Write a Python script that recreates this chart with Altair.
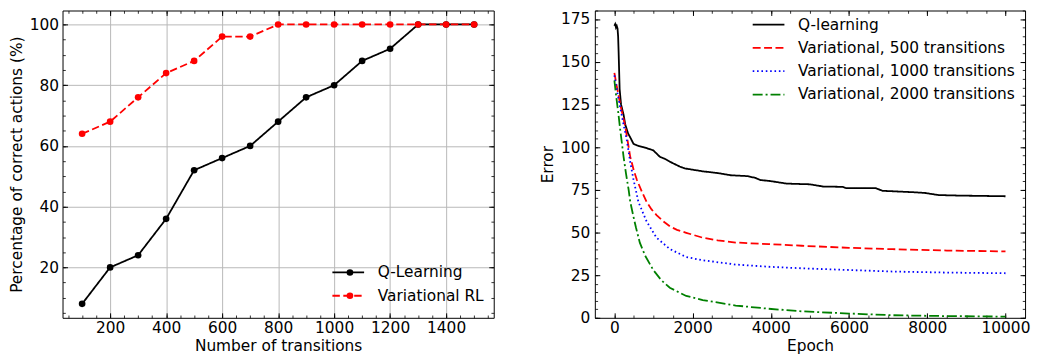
import altair as alt
import pandas as pd

FONT = "DejaVu Sans"
FS = 15.5

# ---------------- left panel data ----------------
transitions = [100, 200, 300, 400, 500, 600, 700, 800, 900, 1000, 1100, 1200, 1300, 1400, 1500]
q_learning_pct = [8, 20, 24, 36, 52, 56, 60, 68, 76, 80, 88, 92, 100, 100, 100]
variational_pct = [64, 68, 76, 84, 88, 96, 96, 100, 100, 100, 100, 100, 100, 100, 100]
left_series = ["Q-Learning", "Variational RL"]
left_colors = ["black", "red"]
left_dashes = [[1, 0], [7.5, 3.5]]
left_x_ticks = [200, 400, 600, 800, 1000, 1200, 1400]
left_y_ticks = [20, 40, 60, 80, 100]
left_x_minor = list(range(50, 1551, 50))
left_y_minor = list(range(5, 101, 5))

# ---------------- right panel data ----------------
q_epoch = [0, 20, 40, 60, 80, 95, 109, 134, 170, 235, 278, 350, 405, 488, 600, 741, 994,
           1163, 1300, 1417, 1500, 1670, 1800, 2259, 2638, 2975, 3397, 3600, 3734, 3987,
           4409, 4999, 5338, 5843, 5927, 6686, 6855, 7698, 7951, 8288, 8794, 10000]
q_error = [171, 172, 170, 171, 169.5, 165, 155, 134, 125, 118.9, 113.2, 108, 105.7, 101.9,
           100.8, 100, 98.1, 94.3, 93, 91.5, 90.5, 88.6, 87.5, 85.8, 84.8, 83.5, 83, 82,
           80.7, 80.1, 78.6, 78.2, 76.9, 76.7, 75.9, 75.9, 74.4, 73.5, 73.1, 71.9, 71.6, 71.2]

v500_epoch = [0, 50, 100, 150, 200, 278, 350, 405, 500, 572, 700, 825, 950, 1078, 1250, 1417,
              1600, 1837, 2259, 2638, 3101, 3500, 3946, 4789, 6000, 7108, 8500, 10000]
v500_error = [143.5, 137, 131, 125, 120, 112, 102, 94.3, 86, 81, 74, 67.8, 63.5, 60.2, 56.5,
              53.6, 51.5, 49.8, 46.9, 45.4, 44.1, 43.6, 43.2, 42.2, 41.0, 40.2, 39.4, 38.9]

v1000_epoch = [0, 50, 100, 150, 235, 320, 400, 488, 615, 825, 1078, 1417, 1837, 2259, 3101,
               3946, 4789, 6000, 7108, 8500, 10000]
v1000_error = [142, 135, 129, 123, 113.2, 103.8, 92, 81, 67.8, 56.4, 46.9, 40.3, 35.6, 33.7,
               31.2, 29.9, 29.0, 28.0, 27.1, 26.5, 26.1]

v2000_epoch = [0, 50, 100, 150, 235, 300, 362, 405, 480, 550, 650, 784, 994, 1200, 1417,
               1837, 2259, 3101, 3946, 4789, 6000, 7108, 8500, 10000]
v2000_error = [139, 129, 120, 110, 94.3, 84, 75.3, 68, 60, 53, 44, 36.5, 28, 22, 17.6,
               12.8, 10.4, 7.2, 5.3, 3.8, 2.5, 1.5, 1.0, 0.7]

right_series = ["Q-learning", "Variational, 500 transitions",
                "Variational, 1000 transitions", "Variational, 2000 transitions"]
right_colors = ["black", "red", "blue", "green"]
right_dashes = [[1, 0], [8, 3.5], [1.6, 2.8], [10, 3, 2, 3]]
right_x_ticks = [0, 2000, 4000, 6000, 8000, 10000]
right_y_ticks = [0, 25, 50, 75, 100, 125, 150, 175]
right_x_minor = list(range(0, 10001, 500))
right_y_minor = list(range(0, 181, 5))

# ---------------- tables ----------------
left_df = pd.DataFrame({
    "x": transitions + transitions,
    "y": q_learning_pct + variational_pct,
    "series": [left_series[0]] * len(transitions) + [left_series[1]] * len(transitions),
})
left_df["dot"] = left_df["series"]

right_rows = []
for name, ex, ey in zip(right_series,
                        [q_epoch, v500_epoch, v1000_epoch, v2000_epoch],
                        [q_error, v500_error, v1000_error, v2000_error]):
    for a, b in zip(ex, ey):
        right_rows.append({"x": a, "y": b, "series": name})
right_df = pd.DataFrame(right_rows)

MAJOR = 5
MINOR = 2.8


def tick_axis(orient, values, size, width):
    # outward ticks on an axis pulled inside the frame by its own length -> inward ticks
    return alt.Axis(orient=orient, values=values, labels=False, domain=False, grid=False,
                    ticks=True, tickSize=size, offset=-size, tickWidth=width,
                    tickColor="black", title=None)


def tick_layers(df, xs, ys, xmaj, ymaj, xmin, ymin):
    layers = []
    for xo, yo, xv, yv, s, w in [
        ("bottom", "left", xmaj, ymaj, MAJOR, 1),
        ("top", "right", xmaj, ymaj, MAJOR, 1),
        ("bottom", "left", xmin, ymin, MINOR, 0.8),
        ("top", "right", xmin, ymin, MINOR, 0.8),
    ]:
        layers.append(
            alt.Chart(df).mark_point(opacity=0).encode(
                x=alt.X("x:Q", scale=xs, axis=tick_axis(xo, xv, s, w)),
                y=alt.Y("y:Q", scale=ys, axis=tick_axis(yo, yv, s, w)),
            )
        )
    return layers


H = 310
ROWPAD = 6.5

# ---------------- left panel ----------------
lxs = alt.Scale(domain=[30, 1570], nice=False, zero=False)
lys = alt.Scale(domain=[3.4, 104.6], nice=False, zero=False)

line_legend_l = alt.Legend(orient="none", legendX=280.5, legendY=256.5, title=None,
                           symbolType="M-3.2,0H3.2", symbolSize=100, symbolStrokeWidth=1.8,
                           labelOffset=22, rowPadding=ROWPAD, padding=0, labelLimit=400)
dot_legend_l = alt.Legend(orient="none", legendX=282.2, legendY=256.5, title=None,
                          symbolType="circle", symbolSize=45, symbolStrokeWidth=0,
                          labelOpacity=0, labelOffset=22, rowPadding=ROWPAD, padding=0,
                          labelLimit=400)

left_lines = alt.Chart(left_df).mark_line(strokeWidth=1.8).encode(
    x=alt.X("x:Q", scale=lxs,
            axis=alt.Axis(orient="bottom", values=left_x_ticks, format="d", ticks=False,
                          domain=False, grid=True, gridColor="#b8b8b8", gridWidth=1,
                          labelPadding=3, title="Number of transitions", titlePadding=2)),
    y=alt.Y("y:Q", scale=lys,
            axis=alt.Axis(orient="left", values=left_y_ticks, format="d", ticks=False,
                          domain=False, grid=True, gridColor="#b8b8b8", gridWidth=1,
                          labelPadding=4, title="Percentage of correct actions (%)",
                          titlePadding=5)),
    color=alt.Color("series:N", scale=alt.Scale(domain=left_series, range=left_colors),
                    legend=line_legend_l),
    strokeDash=alt.StrokeDash("series:N", scale=alt.Scale(domain=left_series, range=left_dashes),
                              legend=line_legend_l),
)

left_points = alt.Chart(left_df).mark_point(filled=True, size=45, opacity=1).encode(
    x=alt.X("x:Q", scale=lxs, axis=None),
    y=alt.Y("y:Q", scale=lys, axis=None),
    fill=alt.Fill("dot:N", scale=alt.Scale(range=left_colors), legend=dot_legend_l),
)

left = alt.layer(
    left_lines, left_points,
    *tick_layers(left_df, lxs, lys, left_x_ticks, left_y_ticks, left_x_minor, left_y_minor)
).resolve_axis(x="independent", y="independent").properties(width=435, height=H)

# ---------------- right panel ----------------
rxs = alt.Scale(domain=[-500, 10500], nice=False, zero=False)
rys = alt.Scale(domain=[0, 180], nice=False, zero=False)

line_legend_r = alt.Legend(orient="none", legendX=167.5, legendY=6.5, title=None,
                           symbolType="M-3.2,0H3.2", symbolSize=100, symbolStrokeWidth=1.8,
                           labelOffset=22, rowPadding=ROWPAD, padding=0, labelLimit=400)

right_lines = alt.Chart(right_df).mark_line(strokeWidth=1.8).encode(
    x=alt.X("x:Q", scale=rxs,
            axis=alt.Axis(orient="bottom", values=right_x_ticks, format="d", ticks=False,
                          domain=False, grid=False, labelPadding=3, title="Epoch",
                          titlePadding=2)),
    y=alt.Y("y:Q", scale=rys,
            axis=alt.Axis(orient="left", values=right_y_ticks, format="d", ticks=False,
                          domain=False, grid=False, labelPadding=5, title="Error",
                          titlePadding=5)),
    color=alt.Color("series:N", scale=alt.Scale(domain=right_series, range=right_colors),
                    legend=line_legend_r),
    strokeDash=alt.StrokeDash("series:N", scale=alt.Scale(domain=right_series, range=right_dashes),
                              legend=line_legend_r),
)

right = alt.layer(
    right_lines,
    *tick_layers(right_df, rxs, rys, right_x_ticks, right_y_ticks, right_x_minor, right_y_minor)
).resolve_axis(x="independent", y="independent").properties(width=434, height=H)

chart = alt.hconcat(left, right, spacing=45).resolve_scale(
    color="independent", strokeDash="independent", fill="independent"
).resolve_legend(
    color="independent", strokeDash="independent", fill="independent"
).properties(
    padding={"left": 0, "top": 0, "right": 0, "bottom": 0}
).configure_view(
    stroke="black", strokeWidth=1
).configure_axis(
    labelFont=FONT, labelFontSize=FS, labelColor="black",
    titleFont=FONT, titleFontSize=FS, titleFontWeight="normal", titleColor="black",
).configure_legend(
    labelFont=FONT, labelFontSize=FS, labelColor="black",
)

chart.save("out.html", embed_options={"renderer": "svg", "actions": False})
